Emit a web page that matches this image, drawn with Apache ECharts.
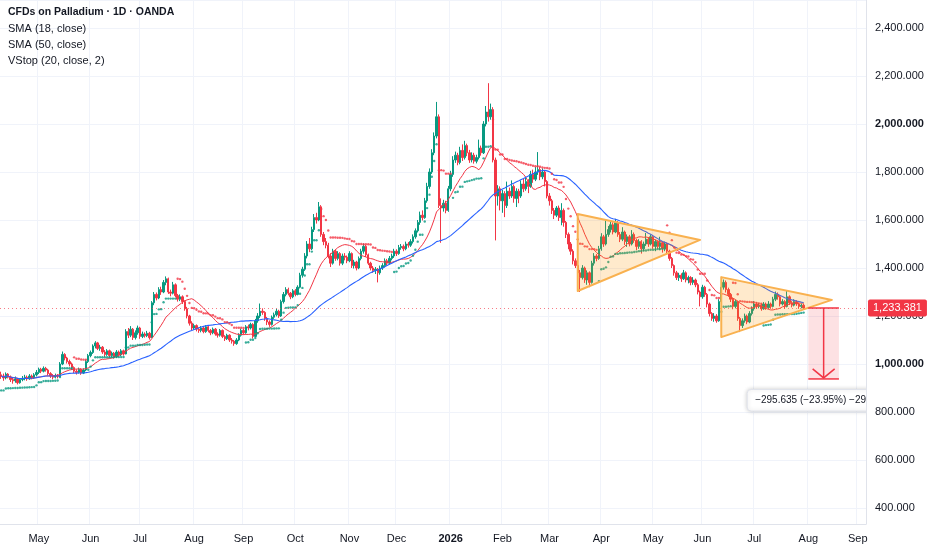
<!DOCTYPE html>
<html><head><meta charset="utf-8">
<script src="https://cdn.jsdelivr.net/npm/echarts@6/dist/echarts.min.js"></script>
<style>html,body{margin:0;padding:0;background:#fff}#c{width:932px;height:550px}</style>
</head><body><div id="c"></div>
<script>
// ---------- DATA ----------
const titleLines = ['CFDs on Palladium · 1D · OANDA', 'SMA (18, close)', 'SMA (50, close)', 'VStop (20, close, 2)'];
const monthNames = ['Jan','Feb','Mar','Apr','May','Jun','Jul','Aug','Sep','Oct','Nov','Dec'];
const firstDate = '2025-04-09';
const categoryCount = 368;
// daily candles [open, close, low, high]
const ohlc = [
[955,950,938,968],[950,942,930,960],[942,958,936,965],[958,945,940,962],[945,935,925,952],[935,930,918,944],
[930,938,922,948],[938,922,915,942],[922,935,918,940],[935,940,928,950],[940,945,932,955],[945,938,930,952],
[938,950,934,958],[950,942,936,956],[942,955,938,962],[955,965,948,975],[965,978,958,985],[978,970,962,984],
[970,982,965,990],[982,975,968,988],[975,960,952,980],[960,950,942,966],[950,945,936,958],[945,952,940,960],
[952,948,940,958],[948,1000,945,1008],[1000,1040,995,1052],[1040,1025,1015,1045],[1025,1010,1002,1030],[1010,1000,990,1018],
[1000,985,975,1006],[985,970,962,990],[970,965,956,978],[965,978,960,985],[978,962,955,982],[962,975,958,982],
[975,1010,970,1018],[1010,1035,1004,1042],[1035,1048,1028,1056],[1048,1075,1042,1082],[1075,1088,1065,1095],[1088,1065,1058,1092],
[1065,1070,1055,1080],[1070,1050,1042,1075],[1050,1040,1030,1058],[1040,1055,1034,1062],[1055,1035,1026,1060],[1035,1045,1028,1052],
[1045,1030,1022,1050],[1030,1050,1025,1058],[1050,1038,1030,1056],[1038,1055,1032,1062],[1055,1042,1035,1060],[1042,1135,1040,1145],
[1135,1120,1108,1150],[1120,1145,1112,1158],[1145,1110,1100,1150],[1110,1130,1102,1140],[1130,1150,1122,1160],[1150,1115,1105,1155],
[1115,1125,1108,1135],[1125,1118,1110,1132],[1118,1128,1112,1138],[1128,1110,1102,1134],[1110,1255,1108,1262],[1255,1290,1245,1300],
[1290,1275,1265,1298],[1275,1310,1270,1320],[1310,1300,1288,1322],[1300,1340,1295,1350],[1340,1355,1328,1365],[1355,1300,1292,1360],
[1300,1295,1282,1310],[1295,1330,1290,1342],[1330,1285,1278,1336],[1285,1270,1260,1292],[1270,1280,1262,1290],[1280,1260,1250,1286],
[1260,1230,1222,1265],[1230,1200,1190,1238],[1200,1170,1160,1205],[1170,1150,1140,1178],[1150,1160,1142,1168],[1160,1145,1136,1165],
[1145,1140,1130,1152],[1140,1150,1132,1158],[1150,1135,1128,1155],[1135,1155,1130,1162],[1155,1140,1132,1160],[1140,1130,1120,1146],
[1130,1145,1124,1152],[1145,1125,1118,1150],[1125,1120,1110,1132],[1120,1140,1114,1146],[1140,1115,1108,1144],[1115,1105,1096,1120],
[1105,1120,1100,1126],[1120,1100,1092,1124],[1100,1095,1085,1108],[1095,1085,1076,1100],[1085,1100,1080,1108],[1100,1120,1095,1128],
[1120,1140,1114,1148],[1140,1130,1122,1146],[1130,1155,1126,1162],[1155,1150,1140,1164],[1150,1165,1144,1172],[1165,1115,1106,1170],
[1115,1180,1112,1188],[1180,1200,1172,1212],[1200,1220,1192,1252],[1220,1215,1205,1232],[1215,1190,1180,1220],[1190,1175,1162,1196],
[1175,1165,1155,1182],[1165,1195,1160,1202],[1195,1205,1188,1214],[1205,1220,1198,1230],[1220,1200,1192,1226],[1200,1260,1196,1268],
[1260,1290,1252,1300],[1290,1310,1282,1320],[1310,1295,1286,1318],[1295,1280,1270,1300],[1280,1305,1274,1312],[1305,1290,1282,1312],
[1290,1320,1286,1328],[1320,1370,1315,1380],[1370,1395,1360,1405],[1395,1450,1388,1462],[1450,1500,1440,1512],[1500,1480,1466,1525],
[1480,1560,1475,1572],[1560,1610,1550,1625],[1610,1600,1585,1630],[1600,1655,1595,1675],[1655,1540,1530,1662],[1540,1510,1495,1550],
[1510,1495,1482,1525],[1495,1450,1440,1505],[1450,1420,1404,1462],[1420,1470,1414,1480],[1470,1440,1430,1478],[1440,1460,1432,1470],
[1460,1420,1410,1466],[1420,1450,1412,1460],[1450,1445,1432,1462],[1445,1430,1420,1452],[1430,1460,1424,1470],[1460,1410,1400,1465],
[1410,1425,1398,1434],[1425,1400,1390,1430],[1400,1440,1395,1448],[1440,1470,1432,1480],[1470,1490,1460,1502],[1490,1455,1446,1496],
[1455,1420,1412,1460],[1420,1400,1390,1426],[1400,1390,1380,1408],[1390,1395,1375,1404],[1395,1380,1340,1400],[1380,1400,1372,1410],
[1400,1410,1392,1420],[1410,1430,1402,1440],[1430,1420,1410,1438],[1420,1440,1414,1450],[1440,1450,1432,1460],[1450,1470,1442,1480],
[1470,1460,1450,1478],[1460,1485,1455,1496],[1485,1490,1476,1500],[1490,1480,1470,1498],[1480,1500,1474,1510],[1500,1495,1485,1508],
[1495,1510,1488,1520],[1510,1530,1502,1540],[1530,1555,1522,1565],[1555,1590,1548,1600],[1590,1620,1580,1635],[1620,1610,1598,1640],
[1610,1680,1605,1692],[1680,1740,1672,1755],[1740,1800,1730,1815],[1800,1880,1792,1895],[1880,1950,1870,1965],[1950,2030,1940,2092],
[2030,1660,1650,2040],[1660,1650,1505,1690],[1650,1670,1635,1684],[1670,1640,1628,1680],[1640,1730,1634,1742],[1730,1790,1720,1805],
[1790,1850,1780,1866],[1850,1870,1838,1885],[1870,1840,1828,1880],[1840,1890,1832,1905],[1890,1860,1846,1915],[1860,1910,1852,1930],
[1910,1880,1866,1918],[1880,1850,1838,1892],[1850,1870,1840,1882],[1870,1845,1835,1880],[1845,1860,1836,1872],[1860,1900,1852,1935],
[1900,1880,1868,1910],[1880,2000,1875,2012],[2000,2050,1990,2075],[2050,2030,2010,2170],[2030,2060,2018,2085],[2060,1850,1840,2070],
[1850,1700,1515,1860],[1700,1730,1660,1745],[1730,1680,1640,1740],[1680,1710,1630,1725],[1710,1660,1612,1720],[1660,1720,1650,1760],
[1720,1700,1688,1735],[1700,1740,1692,1765],[1740,1690,1672,1748],[1690,1720,1654,1732],[1720,1700,1670,1730],[1700,1750,1692,1765],
[1750,1730,1716,1772],[1730,1760,1722,1780],[1760,1740,1712,1770],[1740,1790,1734,1805],[1790,1770,1755,1810],[1770,1800,1762,1821],
[1800,1810,1788,1883],[1810,1780,1766,1820],[1780,1800,1770,1815],[1800,1760,1740,1806],[1760,1700,1690,1766],[1700,1680,1660,1712],
[1680,1640,1625,1688],[1640,1620,1604,1650],[1620,1650,1612,1658],[1650,1610,1596,1660],[1610,1640,1578,1670],[1640,1590,1572,1648],
[1590,1540,1525,1596],[1540,1500,1478,1548],[1500,1470,1455,1508],[1470,1430,1415,1478],[1430,1410,1400,1440],[1410,1380,1366,1418],
[1380,1360,1300,1392],[1360,1400,1352,1412],[1400,1350,1338,1406],[1350,1380,1330,1390],[1380,1340,1320,1386],[1340,1420,1335,1430],
[1420,1450,1410,1462],[1450,1440,1428,1458],[1440,1480,1434,1492],[1480,1530,1472,1545],[1530,1500,1488,1538],[1500,1540,1494,1600],
[1540,1560,1530,1575],[1560,1580,1548,1600],[1580,1550,1540,1590],[1550,1590,1545,1605],[1590,1540,1530,1596],[1540,1520,1508,1550],
[1520,1550,1512,1570],[1550,1510,1496,1556],[1510,1530,1488,1540],[1530,1500,1490,1538],[1500,1540,1494,1558],[1540,1515,1505,1548],
[1515,1490,1475,1522],[1490,1510,1480,1520],[1510,1480,1460,1516],[1480,1500,1470,1510],[1500,1520,1492,1546],[1520,1500,1488,1528],
[1500,1530,1494,1540],[1530,1490,1480,1536],[1490,1510,1470,1518],[1510,1490,1480,1515],[1490,1505,1474,1530],[1505,1480,1464,1512],
[1480,1500,1470,1510],[1500,1470,1460,1505],[1470,1440,1430,1476],[1440,1410,1400,1446],[1410,1380,1368,1415],[1380,1360,1350,1388],
[1360,1370,1346,1380],[1370,1355,1342,1378],[1355,1380,1350,1392],[1380,1350,1340,1386],[1350,1360,1336,1368],[1360,1340,1328,1366],
[1340,1350,1330,1362],[1350,1330,1320,1356],[1330,1300,1290,1337],[1300,1280,1240,1306],[1280,1320,1272,1330],[1320,1290,1280,1326],
[1290,1250,1236,1296],[1250,1210,1198,1256],[1210,1190,1180,1216],[1190,1200,1176,1212],[1200,1180,1172,1208],[1180,1260,1176,1270],
[1260,1320,1254,1332],[1320,1340,1310,1352],[1340,1310,1298,1348],[1310,1290,1280,1318],[1290,1270,1258,1296],[1270,1240,1228,1276],
[1240,1260,1232,1268],[1260,1190,1180,1264],[1190,1160,1133,1196],[1160,1180,1150,1190],[1180,1200,1172,1210],[1200,1175,1166,1206],
[1175,1210,1170,1220],[1210,1230,1202,1240],[1230,1250,1222,1262],[1250,1240,1230,1258],[1240,1245,1232,1255],[1245,1230,1222,1252],
[1230,1250,1226,1258],[1250,1235,1226,1256],[1235,1250,1228,1262],[1250,1240,1230,1256],[1240,1270,1236,1280],[1270,1290,1262,1302],
[1290,1280,1268,1298],[1280,1250,1240,1286],[1250,1260,1244,1270],[1260,1240,1230,1266],[1240,1280,1236,1308],[1280,1255,1246,1286],
[1255,1245,1236,1262],[1245,1260,1240,1270],[1260,1250,1242,1266],[1250,1240,1230,1256],[1240,1245,1232,1252],[1245,1233.381,1226,1252]
];
// drawn annotations, in data coordinates [dayIndex, price]
const triangles = [
  [[245,1625],[245,1304],[297,1517]],
  [[306,1362],[306,1112],[353,1267]]
];
const measure = { x0: 343, x1: 356, top: 1233.381, bottom: 937.746 };
const measureLabel = { x: 316.6, top: 894, bottom: 804, text: '\u2212295.635 (\u221223.95%) \u2212295,635' };
const yTicks = { min: 333.333, max: 2516.667, step: 200 };

// ---------- derived ----------
const dates = [];
{ const d = new Date(firstDate + 'T00:00:00Z');
  while (dates.length < categoryCount) { const w = d.getUTCDay(); if (w !== 0 && w !== 6) dates.push(d.toISOString().slice(0,10)); d.setUTCDate(d.getUTCDate()+1); } }
const closes = ohlc.map(c => c[1]);
function sma(n){ return closes.map((_, i) => { const s = Math.max(0, i-n+1); let t=0; for (let k=s;k<=i;k++) t+=closes[k]; return +(t/(i-s+1)).toFixed(3); }); }
const sma18 = sma(18), sma50 = sma(50);
function vstop(len, mult){
  let atr=null, mx=closes[0], mn=closes[0], stop=null, up=true; const upPts=[], dnPts=[];
  ohlc.forEach((c,i)=>{
    const h=c[3], l=c[2], cl=c[1];
    const tr = i===0 ? h-l : Math.max(h-l, Math.abs(h-closes[i-1]), Math.abs(l-closes[i-1]));
    atr = atr===null ? tr : (atr*(len-1)+tr)/len;
    const a = atr*mult;
    mx = Math.max(mx, cl); mn = Math.min(mn, cl);
    if (stop===null) stop = up ? mx-a : mn+a;
    stop = up ? Math.max(stop, mx-a) : Math.min(stop, mn+a);
    const nu = cl - stop >= 0;
    if (nu !== up) { mx = cl; mn = cl; stop = nu ? mx-a : mn+a; }
    up = nu;
    (up ? upPts : dnPts).push([i, +stop.toFixed(2)]);
  });
  return {upPts, dnPts};
}
const vs = vstop(20, 2);
const isMonthStart = i => i>0 && dates[i].slice(5,7) !== dates[i-1].slice(5,7);
const FONT = '"Liberation Sans", Arial, sans-serif';
const fmt = v => v.toLocaleString('en-US', {minimumFractionDigits:3, maximumFractionDigits:3});

const chart = echarts.init(document.getElementById('c'), null, {renderer:'canvas'});
chart.setOption({
  animation: false,
  backgroundColor: '#ffffff',
  textStyle: { fontFamily: FONT },
  graphic: titleLines.map((t,i)=>({ type:'text', left: 8, top: 7 + i*16, z: 100,
    style: { text: t, fill: '#131722', font: (i===0?'bold 10.5px ':'11px ') + FONT } })),
  grid: { left: 0, right: 66, top: 0, bottom: 26 },
  xAxis: {
    type: 'category', data: dates, boundaryGap: true,
    axisLine: { show: true, lineStyle: { color: '#e0e3eb' } },
    axisTick: { show: false },
    axisLabel: { interval: (i) => isMonthStart(i), margin: 9, color: '#131722', fontSize: 11, fontFamily: FONT,
      formatter: (v) => { const m = +v.slice(5,7); return m===1 ? '{y|' + v.slice(0,4) + '}' : monthNames[m-1]; },
      rich: { y: { fontWeight: 'bold', fontSize: 11, color: '#131722', fontFamily: FONT } } },
    splitLine: { show: true, interval: (i) => isMonthStart(i), lineStyle: { color: '#f0f3fa', width: 1 } }
  },
  yAxis: {
    type: 'value', position: 'right', min: yTicks.min, max: yTicks.max, splitNumber: 11,
    minInterval: yTicks.step, maxInterval: yTicks.step, scale: true,
    axisLine: { show: true, lineStyle: { color: '#e0e3eb' } }, axisTick: { show: false },
    axisLabel: { showMinLabel: false, showMaxLabel: false, margin: 9, color: '#131722', fontSize: 11, fontFamily: FONT,
      formatter: v => (Math.round(v) % 1000 === 0 ? '{b|' + fmt(v) + '}' : fmt(v)),
      rich: { b: { fontWeight: 'bold', fontSize: 11, color: '#131722', fontFamily: FONT } } },
    splitLine: { lineStyle: { color: '#f0f3fa', width: 1 } }
  },
  series: [
    { type: 'candlestick', data: ohlc, barWidth: '80%', z: 3,
      itemStyle: { color: '#089981', color0: '#f23645', borderColor: '#089981', borderColor0: '#f23645', borderWidth: 1 },
      markLine: { silent: true, symbol: ['none','none'], animation: false,
        data: [{ yAxis: closes[closes.length-1] }],
        lineStyle: { color: 'rgba(242,54,69,0.65)', type: [1,3], width: 1 },
        label: { position: 'end', distance: 2, formatter: () => fmt(closes[closes.length-1]), backgroundColor: '#f23645',
          color: '#ffffff', padding: [3,5,3,5], fontSize: 11, fontFamily: FONT, borderRadius: 2 } } },
    { type: 'line', data: sma18, showSymbol: false, z: 4, lineStyle: { color: '#f23645', width: 1 } },
    { type: 'line', data: sma50, showSymbol: false, z: 4, lineStyle: { color: '#2962ff', width: 1.1 } },
    { type: 'scatter', data: vs.upPts, symbol: 'circle', symbolSize: 2.4, z: 4, itemStyle: { color: '#089981' } },
    { type: 'scatter', data: vs.dnPts, symbol: 'circle', symbolSize: 2.4, z: 4, itemStyle: { color: '#f23645' } },
    { type: 'custom', z: 5, silent: true, data: triangles.map(t => t[0]),
      renderItem: (params, api) => {
        const pts = triangles[params.dataIndex].map(p => api.coord(p));
        return { type: 'polygon', shape: { points: pts }, style: { fill: 'rgba(255,152,0,0.2)', stroke: '#f9b14f', lineWidth: 2, lineJoin: 'round' } };
      } },
    { type: 'custom', z: 6, silent: true, clip: true, data: [[measure.x0, measure.top]],
      renderItem: (params, api) => {
        const p0 = api.coord([measure.x0, measure.top]), p1 = api.coord([measure.x1, measure.bottom]);
        const cx = (p0[0]+p1[0])/2;
        const l0 = api.coord([measureLabel.x, measureLabel.top]), l1 = api.coord([measureLabel.x, measureLabel.bottom]);
        const red = '#f23645';
        return { type: 'group', children: [
          { type: 'rect', shape: { x: p0[0], y: p0[1], width: p1[0]-p0[0], height: p1[1]-p0[1] }, style: { fill: 'rgba(242,54,69,0.15)' } },
          { type: 'line', shape: { x1: p0[0], y1: p0[1], x2: p1[0], y2: p0[1] }, style: { stroke: red, lineWidth: 1.5 } },
          { type: 'line', shape: { x1: p0[0], y1: p1[1], x2: p1[0], y2: p1[1] }, style: { stroke: red, lineWidth: 1.5 } },
          { type: 'line', shape: { x1: cx, y1: p0[1], x2: cx, y2: p1[1]-1 }, style: { stroke: red, lineWidth: 1.5 } },
          { type: 'polyline', shape: { points: [[cx-11, p1[1]-10], [cx, p1[1]-1], [cx+11, p1[1]-10]] }, style: { stroke: red, lineWidth: 1.5, fill: null } },
          { type: 'rect', shape: { x: l0[0], y: l0[1], width: 160, height: l1[1]-l0[1], r: 4 },
            style: { fill: '#ffffff', stroke: '#e0e3eb', lineWidth: 1, shadowBlur: 4, shadowColor: 'rgba(0,0,0,0.18)' } },
          { type: 'text', x: l0[0] + 8, y: (l0[1]+l1[1])/2,
            style: { text: measureLabel.text, fill: '#131722', font: '10px ' + FONT, verticalAlign: 'middle', align: 'left' } }
        ] };
      } }
  ]
});
</script></body></html>
